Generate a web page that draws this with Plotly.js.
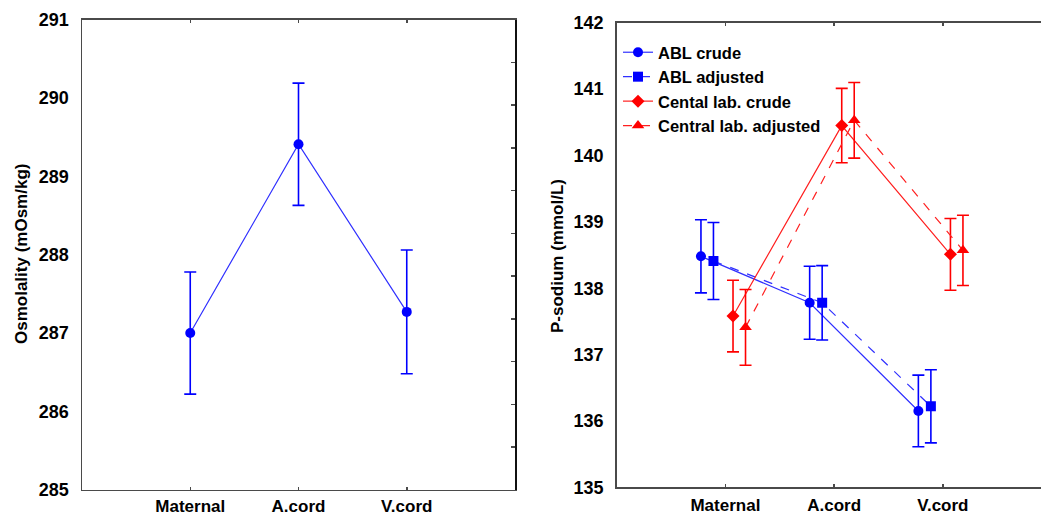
<!DOCTYPE html>
<html>
<head>
<meta charset="utf-8">
<script src="https://cdn.plot.ly/plotly-3.0.1.min.js"></script>
<style>html,body{margin:0;padding:0;background:#fff;}#chart{width:1041px;height:517px;}</style>
</head>
<body>
<div id="chart"></div>
<script>
// ---- data ----
const categories = ["Maternal", "A.cord", "V.cord"];

const osmoMean = [287.0, 289.41, 287.27];
const osmoErr  = [0.78, 0.78, 0.79];

const seriesNames = ["ABL crude", "ABL adjusted", "Cental lab. crude", "Central lab. adjusted"];
const ablCrude      = [138.48, 137.78, 136.15];
const ablCrudeErr   = [0.55, 0.55, 0.54];
const ablAdj        = [138.41, 137.78, 136.22];
const ablAdjErr     = [0.58, 0.56, 0.55];
const labCrude      = [137.58, 140.45, 138.51];
const labCrudeErr   = [0.54, 0.56, 0.54];
const labAdj        = [137.41, 140.53, 138.57];
const labAdjErr     = [0.57, 0.57, 0.53];

const osmoTicks = [285, 286, 287, 288, 289, 290, 291];
const naTicks = [135, 136, 137, 138, 139, 140, 141, 142];

// ---- drawing ----
const idx = categories.map((c, i) => i);
const W = 1041, H = 517;
const font = "Liberation Sans, Arial, sans-serif";
const frameCol = "#4a4a4a";

function shifted(off) { return idx.map(i => i + off); }

function series(name, y, err, off, color, lineColor, symbol, dash, size) {
  return {
    type: "scatter", mode: "lines+markers", name: name,
    x: shifted(off), y: y, xaxis: "x2", yaxis: "y2",
    line: {color: lineColor, width: 1.2, dash: dash},
    marker: {color: color, symbol: symbol, size: size},
    error_y: {type: "data", array: err, visible: true, color: color, thickness: 1.6, width: 6}
  };
}

const traces = [
  {
    type: "scatter", mode: "lines+markers", showlegend: false,
    x: idx, y: osmoMean, xaxis: "x", yaxis: "y",
    line: {color: "#3030ff", width: 1.2},
    marker: {color: "#0000ff", symbol: "circle", size: 10},
    error_y: {type: "data", array: osmoErr, visible: true, color: "#0000ff", thickness: 1.6, width: 6}
  },
  {type: "scatter", x: [null], y: [null], xaxis: "x", yaxis: "y3", showlegend: false, hoverinfo: "skip"},
  series(seriesNames[0], ablCrude, ablCrudeErr, -0.225, "#0000ff", "#3030ff", "circle", "solid", 10),
  series(seriesNames[1], ablAdj, ablAdjErr, -0.11, "#0000ff", "#3030ff", "square", "dash", 10),
  series(seriesNames[2], labCrude, labCrudeErr, 0.07, "#ff0000", "#ff2020", "diamond", "solid", 10),
  series(seriesNames[3], labAdj, labAdjErr, 0.185, "#ff0000", "#ff2020", "triangle-up", "dash", 11)
];

const tickFont = {family: font, size: 18, color: "#000", weight: "bold"};

function xAxis(domain, range, anchor, standoff) {
  return {
    domain: domain, range: range, anchor: anchor,
    tickmode: "array", tickvals: idx, ticktext: categories.map(c => "<b>" + c + "</b>"),
    ticks: "inside", ticklen: 3, tickcolor: frameCol, tickwidth: 1.5,
    showline: true, linecolor: frameCol, linewidth: 1.5, mirror: "ticks",
    showgrid: false, zeroline: false, tickfont: {family: font, size: 17, color: "#000", weight: "bold"},
    ticklabelstandoff: standoff, fixedrange: true
  };
}
function yAxis(domain, range, vals, anchor) {
  return {
    domain: domain, range: range, anchor: anchor,
    tickmode: "array", tickvals: vals, ticktext: vals.map(v => "<b>" + v + "</b>"),
    ticks: "", showline: true, linecolor: frameCol, linewidth: 1.5,
    showgrid: false, zeroline: false, tickfont: tickFont, ticklabelstandoff: 8,
    fixedrange: true
  };
}

const layout = {
  width: W, height: H,
  margin: {l: 0, r: 0, t: 0, b: 0},
  paper_bgcolor: "#fff", plot_bgcolor: "#fff",
  font: {family: font, color: "#000"},
  showlegend: true,
  xaxis: xAxis([82 / W, 515 / W], [-1, 3], "y", 0),
  yaxis: yAxis([27.3 / H, 497.3 / H], [285, 291], osmoTicks, "x"),
  yaxis3: {
    overlaying: "y", anchor: "x", side: "right", range: [0, 11],
    tickmode: "array", tickvals: [1, 2, 3, 4, 5, 6, 7, 8, 9, 10],
    ticks: "inside", ticklen: 4, tickcolor: frameCol, tickwidth: 1.5,
    showticklabels: false, showline: true, linecolor: "#111", linewidth: 2,
    showgrid: false, zeroline: false, fixedrange: true
  },
  xaxis2: xAxis([616.7 / W, 1], [-1, 2.903], "y2", 2),
  yaxis2: yAxis([29.7 / H, 494.3 / H], [135, 142], naTicks, "x2"),
  legend: {
    x: 618 / W, y: (H - 35) / H, xanchor: "left", yanchor: "top",
    bgcolor: "rgba(0,0,0,0)", borderwidth: 0, tracegroupgap: 0,
    font: {family: font, size: 16.5, color: "#000", weight: "bold"}
  },
  annotations: [
    {xref: "paper", yref: "paper", x: 22 / W, y: (H - 254) / H, text: "<b>Osmolality (mOsm/kg)</b>",
     textangle: -90, showarrow: false, font: {family: font, size: 17, color: "#000"}, xanchor: "center", yanchor: "middle"},
    {xref: "paper", yref: "paper", x: 558 / W, y: (H - 256) / H, text: "<b>P-sodium (mmol/L)</b>",
     textangle: -90, showarrow: false, font: {family: font, size: 17, color: "#000"}, xanchor: "center", yanchor: "middle"}
  ]
};

Plotly.newPlot("chart", traces, layout, {displayModeBar: false, staticPlot: true});
</script>
</body>
</html>
